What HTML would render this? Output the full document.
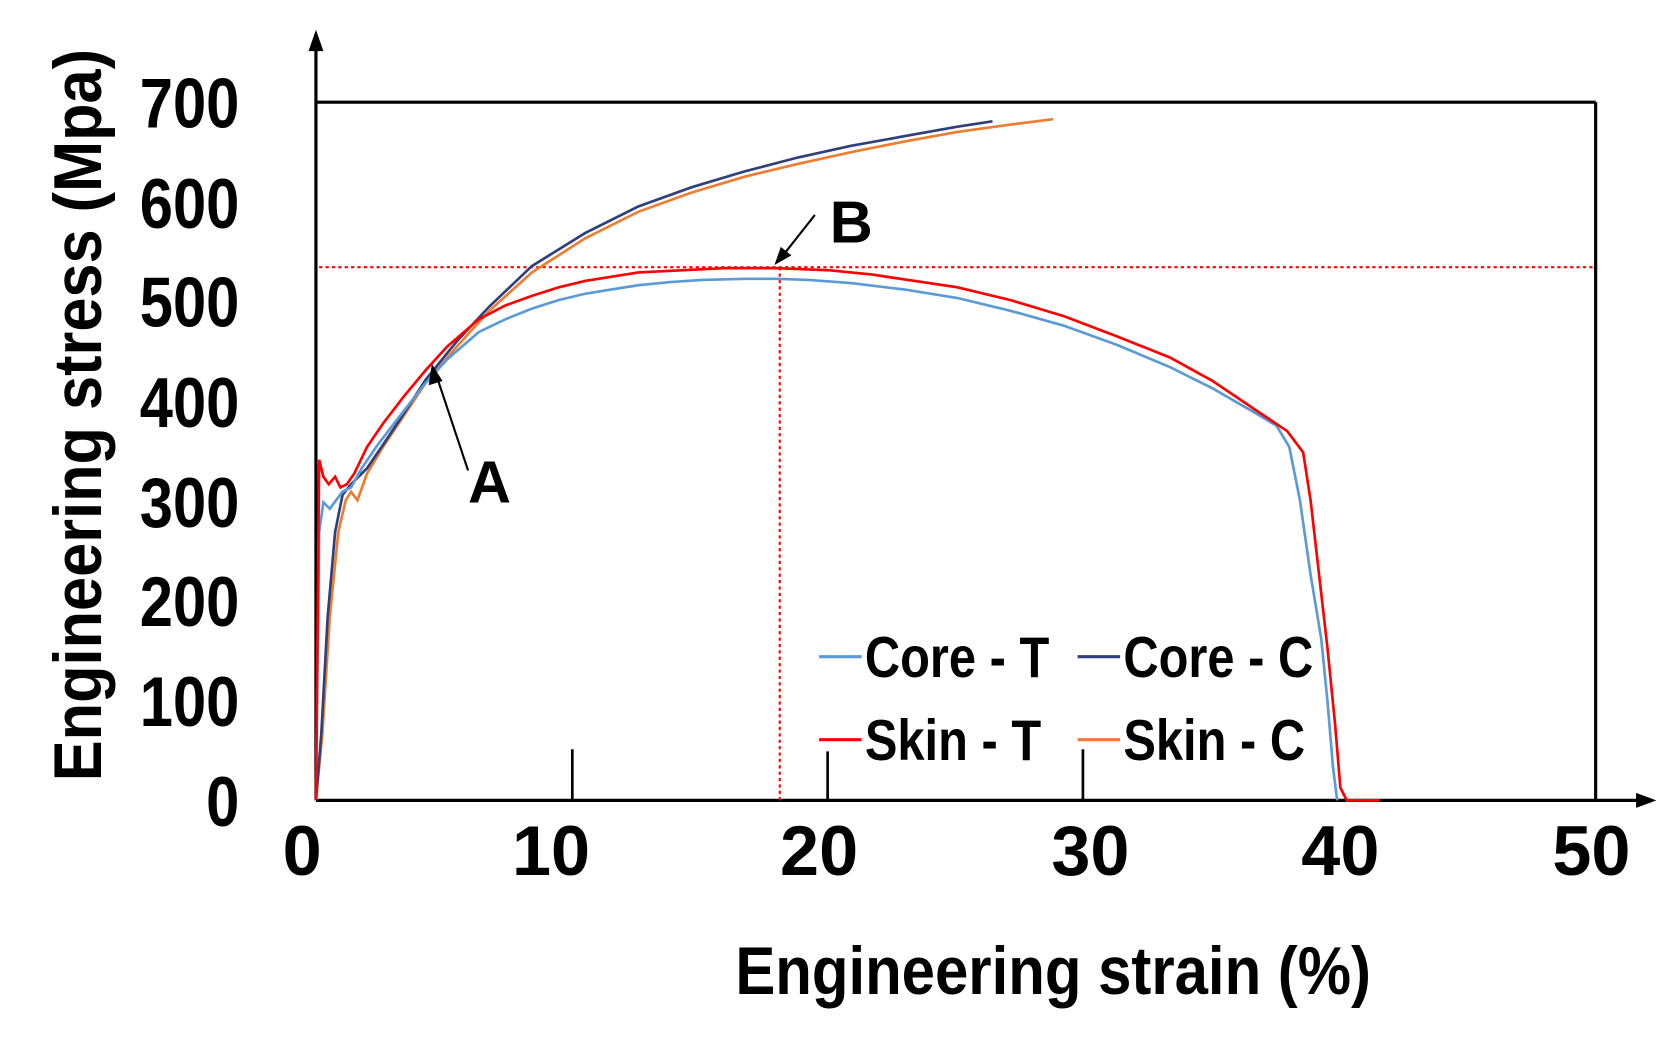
<!DOCTYPE html>
<html><head><meta charset="utf-8"><style>
html,body{margin:0;padding:0;background:#fff}
svg{display:block}
text{font-family:"Liberation Sans",Arial,sans-serif;font-weight:bold;fill:#000}
</style></head><body>
<svg width="1668" height="1059" viewBox="0 0 1568 995" preserveAspectRatio="none" xmlns="http://www.w3.org/2000/svg">
<rect width="1568" height="995" fill="#fff"/>
<!-- frame -->
<line x1="297" y1="96" x2="1500" y2="96" stroke="#000" stroke-width="3"/>
<line x1="1500" y1="96" x2="1500" y2="752" stroke="#000" stroke-width="3"/>
<line x1="297" y1="752" x2="297" y2="40" stroke="#000" stroke-width="3"/>
<polygon points="297,28 290,48 304,48" fill="#000"/>
<line x1="297" y1="752" x2="1545" y2="752" stroke="#000" stroke-width="3"/>
<polygon points="1557,752 1538,745 1538,759" fill="#000"/>
<line x1="538" y1="752" x2="538" y2="704" stroke="#000" stroke-width="2.5"/>
<line x1="778" y1="752" x2="778" y2="706" stroke="#000" stroke-width="2.5"/>
<line x1="1018" y1="752" x2="1018" y2="704" stroke="#000" stroke-width="2.5"/>
<!-- dotted lines -->
<line x1="300" y1="251" x2="1500" y2="251" stroke="#f00" stroke-width="2" stroke-dasharray="3,3"/>
<line x1="733" y1="251" x2="733" y2="752" stroke="#f00" stroke-width="2" stroke-dasharray="3,3"/>
<!-- y labels -->
<g font-size="66" text-anchor="end">
<text x="225" y="120" transform="scale(0.85,1) translate(39.7,0)">700</text>
<text x="225" y="214" transform="scale(0.85,1) translate(39.7,0)">600</text>
<text x="225" y="307" transform="scale(0.85,1) translate(39.7,0)">500</text>
<text x="225" y="401" transform="scale(0.85,1) translate(39.7,0)">400</text>
<text x="225" y="495" transform="scale(0.85,1) translate(39.7,0)">300</text>
<text x="225" y="588" transform="scale(0.85,1) translate(39.7,0)">200</text>
<text x="225" y="682" transform="scale(0.85,1) translate(39.7,0)">100</text>
<text x="225" y="776" transform="scale(0.85,1) translate(39.7,0)">0</text>
</g>
<g font-size="66" text-anchor="middle">
<text x="284" y="822">0</text>
<text x="518" y="822">10</text>
<text x="770" y="822">20</text>
<text x="1025" y="822">30</text>
<text x="1260" y="822">40</text>
<text x="1496" y="822">50</text>
</g>
<text x="0" y="0" font-size="64" text-anchor="middle" transform="translate(95,390) rotate(-90) scale(0.9,1)">Engineering stress (Mpa)</text>
<text x="0" y="0" font-size="64" text-anchor="middle" transform="translate(990,934) scale(0.88,1)">Engineering strain (%)</text>
<!-- curves -->
<polyline fill="none" stroke="#ed7d31" stroke-width="2.5" points="297,752 303,690 310,580 318,500 325,470 330,462 336,470 345,445 360,420 380,390 400,360 430,325 460,292 500,256 550,224 600,199 650,181 700,166 750,154 800,143 850,133 900,124 950,117 990,112"/>
<polyline fill="none" stroke="#2f3f7a" stroke-width="2.5" points="297,752 302,690 308,580 315,500 322,465 330,455 345,440 360,418 380,388 400,357 430,320 460,288 500,250 550,219 600,194 650,176 700,161 750,148 800,137 850,128 900,119 933,114"/>
<polyline fill="none" stroke="#5b9bd5" stroke-width="2.5" points="297,752 300,500 304,472 310,478 316,470 322,462 330,458 340,440 355,418 375,392 400,360 420,338 450,312 475,300 500,290 525,282 550,276 575,272 600,268 630,265 660,263 700,262 730,262 760,263 800,266 850,272 900,280 950,292 1000,306 1050,324 1100,345 1140,365 1180,388 1200,400 1212,420 1222,470 1232,540 1242,600 1248,660 1253,720 1257,752"/>
<polyline fill="none" stroke="#ff0000" stroke-width="2.5" points="297,752 300,432 304,448 309,455 315,448 320,458 326,455 333,445 345,420 360,398 380,372 400,348 420,326 450,300 475,287 500,278 525,270 550,264 575,260 600,256 640,254 680,252 730,252 780,254 820,258 860,264 900,270 950,282 1000,297 1050,316 1100,336 1140,358 1180,385 1210,405 1225,425 1232,470 1240,540 1248,610 1255,680 1260,740 1266,752 1297,752"/>
<!-- annotations -->
<line x1="440" y1="442" x2="410" y2="352" stroke="#000" stroke-width="2"/>
<polygon points="406,342 403,362 416,358" fill="#000"/>
<text x="440" y="472" font-size="56">A</text>
<line x1="766" y1="202" x2="736" y2="240" stroke="#000" stroke-width="2"/>
<polygon points="728,249 734,232 744,240" fill="#000"/>
<text x="780" y="228" font-size="56">B</text>
<!-- legend -->
<line x1="770" y1="617" x2="810" y2="617" stroke="#5b9bd5" stroke-width="3"/>
<text x="0" y="0" font-size="54" transform="translate(813,636) scale(0.85,1)">Core - T</text>
<line x1="1013" y1="617" x2="1053" y2="617" stroke="#2f3f7a" stroke-width="3"/>
<text x="0" y="0" font-size="54" transform="translate(1056,636) scale(0.85,1)">Core - C</text>
<line x1="770" y1="695" x2="810" y2="695" stroke="#ff0000" stroke-width="3"/>
<text x="0" y="0" font-size="54" transform="translate(813,714) scale(0.85,1)">Skin - T</text>
<line x1="1013" y1="695" x2="1053" y2="695" stroke="#ed7d31" stroke-width="3"/>
<text x="0" y="0" font-size="54" transform="translate(1056,714) scale(0.85,1)">Skin - C</text>
</svg>
</body></html>
